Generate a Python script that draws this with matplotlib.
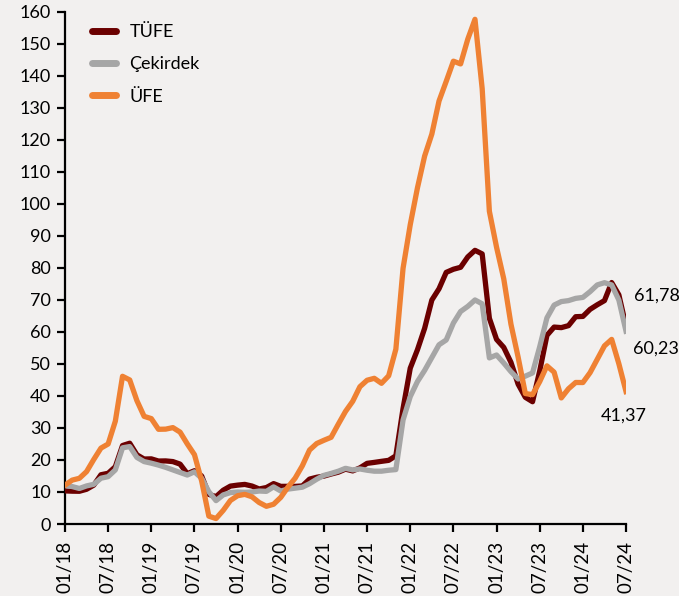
import matplotlib
matplotlib.use("Agg")
import matplotlib.pyplot as plt
import numpy as np

plt.rcParams['font.family'] = ['Lato', 'DejaVu Sans']

# yillik degisim, %
tufe = [10.35, 10.26, 10.23, 10.85, 12.15, 15.39, 15.85, 17.90, 24.52, 25.24, 21.62, 20.30,
        20.35, 19.67, 19.71, 19.50, 18.71, 15.72, 16.65, 15.01, 9.26, 8.55, 10.56, 11.84,
        12.15, 12.37, 11.86, 10.94, 11.39, 12.62, 11.76, 11.77, 11.75, 11.89, 14.03, 14.60,
        14.97, 15.61, 16.19, 17.14, 16.59, 17.53, 18.95, 19.25, 19.58, 19.89, 21.31, 36.08,
        48.69, 54.44, 61.14, 69.97, 73.50, 78.62, 79.60, 80.21, 83.45, 85.51, 84.39, 64.27,
        57.68, 55.18, 50.51, 43.68, 39.59, 38.21, 47.83, 58.94, 61.53, 61.36, 61.98, 64.77,
        64.86, 67.07, 68.50, 69.80, 75.45, 71.60, 61.78]

cekirdek = [12.0, 11.7, 11.1, 11.9, 12.4, 14.3, 14.8, 16.9, 23.8, 24.2, 20.8, 19.5,
            19.0, 18.4, 17.7, 16.9, 16.1, 15.3, 16.3, 14.3, 10.1, 7.3, 9.1, 9.8,
            10.0, 9.9, 10.0, 10.3, 10.2, 11.6, 10.3, 10.9, 11.2, 11.5, 12.6, 14.0,
            15.2, 15.8, 16.5, 17.4, 16.9, 17.2, 16.8, 16.5, 16.5, 16.8, 17.0, 32.5,
            39.8, 44.5, 48.0, 52.0, 56.0, 57.5, 62.8, 66.4, 68.0, 70.0, 68.8, 51.9,
            52.8, 50.3, 47.6, 45.3, 46.2, 47.2, 55.4, 64.4, 68.4, 69.5, 69.8, 70.5,
            70.8, 72.6, 74.7, 75.4, 74.7, 70.0, 60.23]

ufe = [12.14, 13.71, 14.28, 16.37, 20.16, 23.71, 25.00, 32.13, 46.15, 45.01, 38.54, 33.64,
       32.93, 29.59, 29.64, 30.12, 28.71, 25.04, 21.66, 13.45, 2.45, 1.70, 4.26, 7.36,
       8.84, 9.26, 8.50, 6.71, 5.53, 6.17, 8.33, 11.53, 14.33, 18.20, 23.11, 25.15,
       26.16, 27.09, 31.20, 35.17, 38.33, 42.89, 44.92, 45.52, 43.96, 46.31, 54.62, 79.89,
       93.53, 105.01, 114.97, 121.82, 132.16, 138.31, 144.61, 143.75, 151.50, 157.69, 136.02, 97.72,
       86.46, 76.61, 62.43, 52.11, 40.76, 40.42, 44.50, 49.41, 47.44, 39.39, 42.25, 44.22,
       44.20, 47.29, 51.47, 55.66, 57.68, 50.09, 41.37]

ticklabels = ['01/18', '07/18', '01/19', '07/19', '01/20', '07/20', '01/21',
              '07/21', '01/22', '07/22', '01/23', '07/23', '01/24', '07/24']

bg = '#f2f0ef'
c_tufe = '#6b0000'
c_cek = '#a6a6a6'
c_ufe = '#ef8133'

x = np.arange(len(tufe))

fig = plt.figure(figsize=(6.79, 5.96), dpi=100, facecolor=bg)
ax = fig.add_axes([0.0957, 0.1208, 0.8263, 0.8592], facecolor=bg)

lw = 3.8
ax.plot(x, tufe, color=c_tufe, lw=lw, label='TÜFE', solid_joinstyle='round', zorder=3)
ax.plot(x, cekirdek, color=c_cek, lw=lw, label='Çekirdek', solid_joinstyle='round', zorder=4)
ax.plot(x, ufe, color=c_ufe, lw=lw, label='ÜFE', solid_joinstyle='round', zorder=5)

ax.set_xlim(0, len(tufe) - 1)
ax.set_ylim(0, 160)
ax.set_yticks(np.arange(0, 161, 10))
ax.set_xticks(np.arange(0, len(tufe), 6))
ax.set_xticklabels(ticklabels, rotation=90)

for s in ['top', 'right']:
    ax.spines[s].set_visible(False)
for s in ['left', 'bottom']:
    ax.spines[s].set_linewidth(1.6)
    ax.spines[s].set_color('black')
ax.tick_params(axis='both', direction='out', length=6, width=1.6, labelsize=13,
               colors='black', pad=4)
ax.tick_params(axis='x', labelsize=13.5, pad=6)

# son degerler
ax.annotate('61,78', (x[-1], tufe[-1]), xytext=(8, 31), textcoords='offset pixels',
            fontsize=13, va='center', ha='left', annotation_clip=False)
ax.annotate('60,23', (x[-1], cekirdek[-1]), xytext=(7, -17), textcoords='offset pixels',
            fontsize=13, va='center', ha='left', annotation_clip=False)
ax.annotate('41,37', (x[-1], ufe[-1]), xytext=(-25, -24), textcoords='offset pixels',
            fontsize=13, va='center', ha='left', annotation_clip=False)

leg = ax.legend(loc='upper left', bbox_to_anchor=(0.02, 1.008), frameon=False, fontsize=13,
                handlelength=1.3, handletextpad=0.75, labelspacing=0.9)
for h in leg.get_lines():
    h.set_solid_capstyle('round')
    h.set_linewidth(5)

fig.savefig('out.png', dpi=100, facecolor=bg)
